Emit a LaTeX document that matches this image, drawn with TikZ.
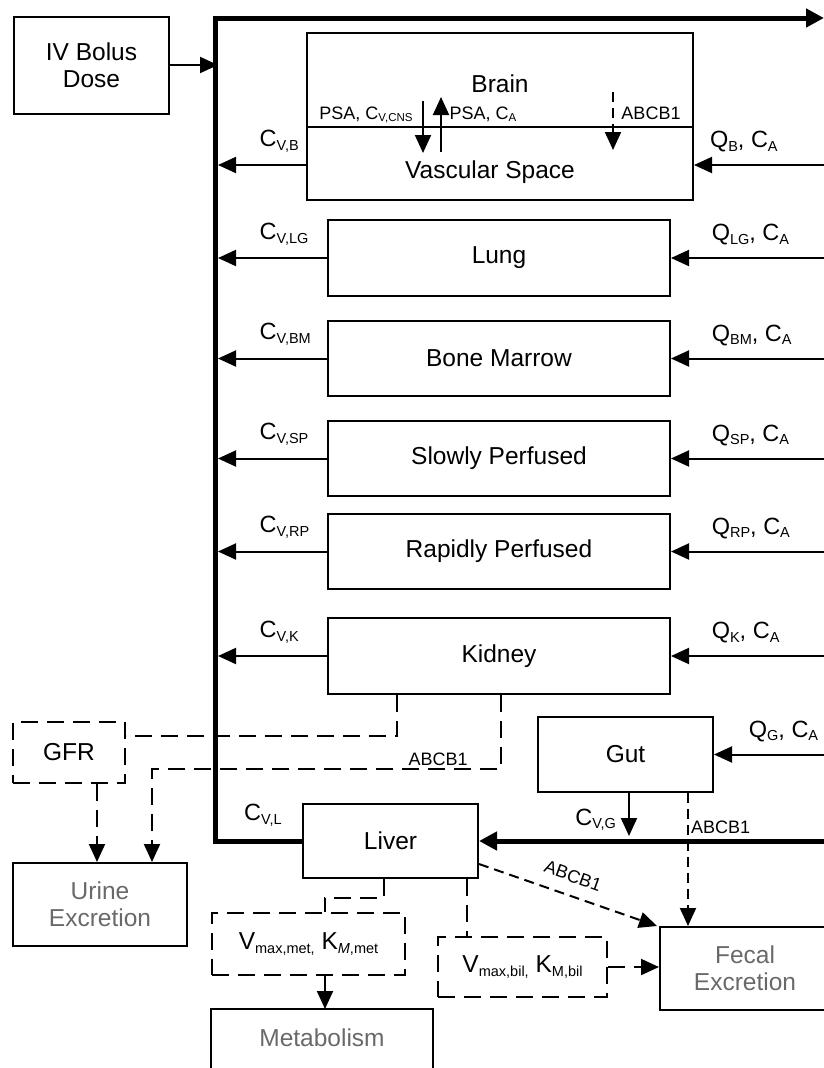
\documentclass[tikz,border=0pt]{standalone}
\usepackage{fontspec}
\setmainfont{Liberation Sans}
\usetikzlibrary{arrows.meta}

\definecolor{outgray}{RGB}{105,105,105}
\newcommand{\sbs}[1]{\raisebox{-0.3ex}{\fontsize{14.5}{15}\selectfont #1}}
\newcommand{\sbsm}[1]{\raisebox{-0.3ex}{\fontsize{11.5}{12}\selectfont #1}}

\tikzset{
  organ/.style={draw, line width=2pt, inner sep=0pt, align=center,
    font=\fontsize{24.5}{27}\selectfont},
  dashbox/.style={organ, dash pattern=on 17pt off 9pt},
  outbox/.style={organ, text=outgray},
  lbl/.style={inner sep=2pt, font=\fontsize{23.5}{26}\selectfont},
  vlbl/.style={lbl, above right, yshift=10pt},
  smalllbl/.style={inner sep=2pt, font=\fontsize{18}{20}\selectfont},
  tip/.style={-{Triangle[length=18pt,width=16pt]}},
  flow/.style={line width=2pt, tip},
  blood/.style={line width=5pt, line join=miter},
  dashflow/.style={line width=2pt, dash pattern=on 17pt off 9pt},
  abcflow/.style={line width=2pt, dash pattern=on 10pt off 6pt},
}

\begin{document}
\begin{tikzpicture}[x=1pt, y=-1pt]
  \useasboundingbox (0,0) rectangle (824,1068);

  % compartments
  \node[organ, minimum width=155, minimum height=97] (iv) at (91.5,65) {IV Bolus\\Dose};
  \node[organ, minimum width=386, minimum height=167] (brain) at (500,116.5) {};
  \node[organ, minimum width=342, minimum height=76] (lung) at (499,258) {Lung};
  \node[organ, minimum width=342, minimum height=75] (bm) at (499,358.5) {Bone Marrow};
  \node[organ, minimum width=342, minimum height=75] (sp) at (499,458.5) {Slowly Perfused};
  \node[organ, minimum width=342, minimum height=75] (rp) at (499,551.5) {Rapidly Perfused};
  \node[organ, minimum width=342, minimum height=76] (kid) at (499,656) {Kidney};
  \node[organ, minimum width=175, minimum height=75] (gut) at (625.5,754.5) {Gut};
  \node[organ, minimum width=175, minimum height=74] (liver) at (390.5,841) {Liver};

  \node[dashbox, minimum width=112, minimum height=61] (gfr) at (69,752.5) {GFR};
  \node[dashbox, minimum width=193, minimum height=62] (vmet) at (308.5,944)
    {V\sbs{max,met,} K\sbs{\textit{M},met}};
  \node[dashbox, minimum width=169, minimum height=60] (vbil) at (522.5,967)
    {V\sbs{max,bil,} K\sbs{M,bil}};

  \node[outbox, minimum width=174, minimum height=83] (urine) at (100,904.5) {Urine\\Excretion};
  \node[outbox, minimum width=170, minimum height=83] (fecal) at (745,968.5) {Fecal\\Excretion};
  \node[outbox, draw=none, minimum width=220, minimum height=56] (metab) at (322,1038) {Metabolism};
  \draw[line width=2pt] ([yshift=-40pt]metab.south west) |- (metab.north east)
    -- ([yshift=-40pt]metab.south east);

  % brain inside
  \node[organ, draw=none, anchor=base] (brainlbl) at (500,92) {Brain};
  \node[organ, draw=none, anchor=base] (vasc) at (490,178) {Vascular Space};
  \draw[line width=2pt] (brain.west |- 0,127) -- (brain.east |- 0,127);
  \coordinate (pd1) at (423,101);
  \coordinate (pd2) at (423,153);
  \coordinate (pu1) at (441,152);
  \coordinate (pu2) at (441,97);
  \coordinate (ab1) at (613,92);
  \coordinate (ab2) at (613,150);
  \draw[flow] (pd1) -- (pd2);
  \draw[flow] (pu1) -- (pu2);
  \draw[abcflow, tip] (ab1) -- (ab2);
  \node[smalllbl, anchor=base] (psav) at (366,119) {PSA, C\sbsm{V,CNS}};
  \node[smalllbl, anchor=base] (psaa) at (483,119) {PSA, C\sbsm{A}};
  \node[smalllbl, anchor=base] (abbr) at (651,119) {ABCB1};

  % blood lines
  \coordinate (venTop) at (215,18);
  \coordinate (artTop) at (824,18);
  \coordinate (venE) at (218,0);
  \coordinate (art) at (824,0);
  \coordinate (bY) at (0,165);

  \draw[blood, -{Triangle[length=18pt,width=18pt]}] (liver.west)
    -- node[vlbl, pos=0.716] (cvl) {C\sbs{V,L}} (liver.west -| venTop)
    -- (venTop) -- (artTop);
  \draw[blood, -{Triangle[length=18pt,width=18pt]}] (art |- liver.east) -- (liver.east);

  \draw[flow] (iv.east) -- (iv.east -| venE);
  \draw[flow] (brain.west |- bY) -- node[vlbl, pos=0.56] (cvb) {C\sbs{V,B}} (venE |- bY);
  \draw[flow] (art |- bY) -- node[vlbl, pos=0.9] (qb) {Q\sbs{B}, C\sbs{A}} (brain.east |- bY);

  \foreach \org/\tag in {lung/LG, bm/BM, sp/SP, rp/RP, kid/K} {
    \draw[flow] (\org.west) -- node[vlbl, pos=0.645] (cv\org) {C\sbs{V,\tag}} (\org.west -| venE);
    \draw[flow] (art |- \org.east) -- node[vlbl, pos=0.753] (q\org) {Q\sbs{\tag}, C\sbs{A}} (\org.east);
  }

  \draw[flow] (art |- gut.east) -- node[vlbl, pos=0.71] (qg) {Q\sbs{G}, C\sbs{A}} (gut.east);
  \coordinate (gv) at (629,836);
  \draw[flow] (gut.south -| gv) -- node[lbl, left, pos=0.62, xshift=-10pt] (cvg) {C\sbs{V,G}} (gv);

  % excretion and clearance
  \coordinate (kA) at (397,736);
  \coordinate (kB) at (501,769);
  \coordinate (kC) at (152,769);
  \draw[dashflow] (kid.south -| kA) -- (kA) -- (kA -| gfr.east);
  \draw[dashflow, tip] (kid.south -| kB) -- (kB)
    -- node[smalllbl, above, pos=0.18] (abk) {ABCB1} (kC) -- (kC |- urine.north);
  \coordinate (gx) at (97,0);
  \draw[dashflow, tip] (gfr.south -| gx) -- (urine.north -| gx);

  \coordinate (gf) at (688,0);
  \draw[abcflow, tip] (gut.south -| gf)
    -- node[smalllbl, right, pos=0.26] (abg) {ABCB1} (fecal.north -| gf);
  \draw[abcflow, tip] (liver.east |- 0,864) -- ([xshift=-2pt]fecal.north west);
  \node[smalllbl, rotate=-19.6] (abl) at (573,876) {ABCB1};

  \coordinate (lm1) at (384,898);
  \coordinate (lm2) at (325,898);
  \draw[dashflow] (liver.south -| lm1) -- (lm1) -- (lm2) -- (lm2 |- vmet.north);
  \draw[flow] (vmet.south -| lm2) -- (metab.north -| lm2);
  \coordinate (lb) at (467,0);
  \draw[dashflow] (liver.south -| lb) -- (vbil.north -| lb);
  \draw[dashflow, tip] (vbil.east) -- (vbil.east -| fecal.west);
\end{tikzpicture}
\end{document}
